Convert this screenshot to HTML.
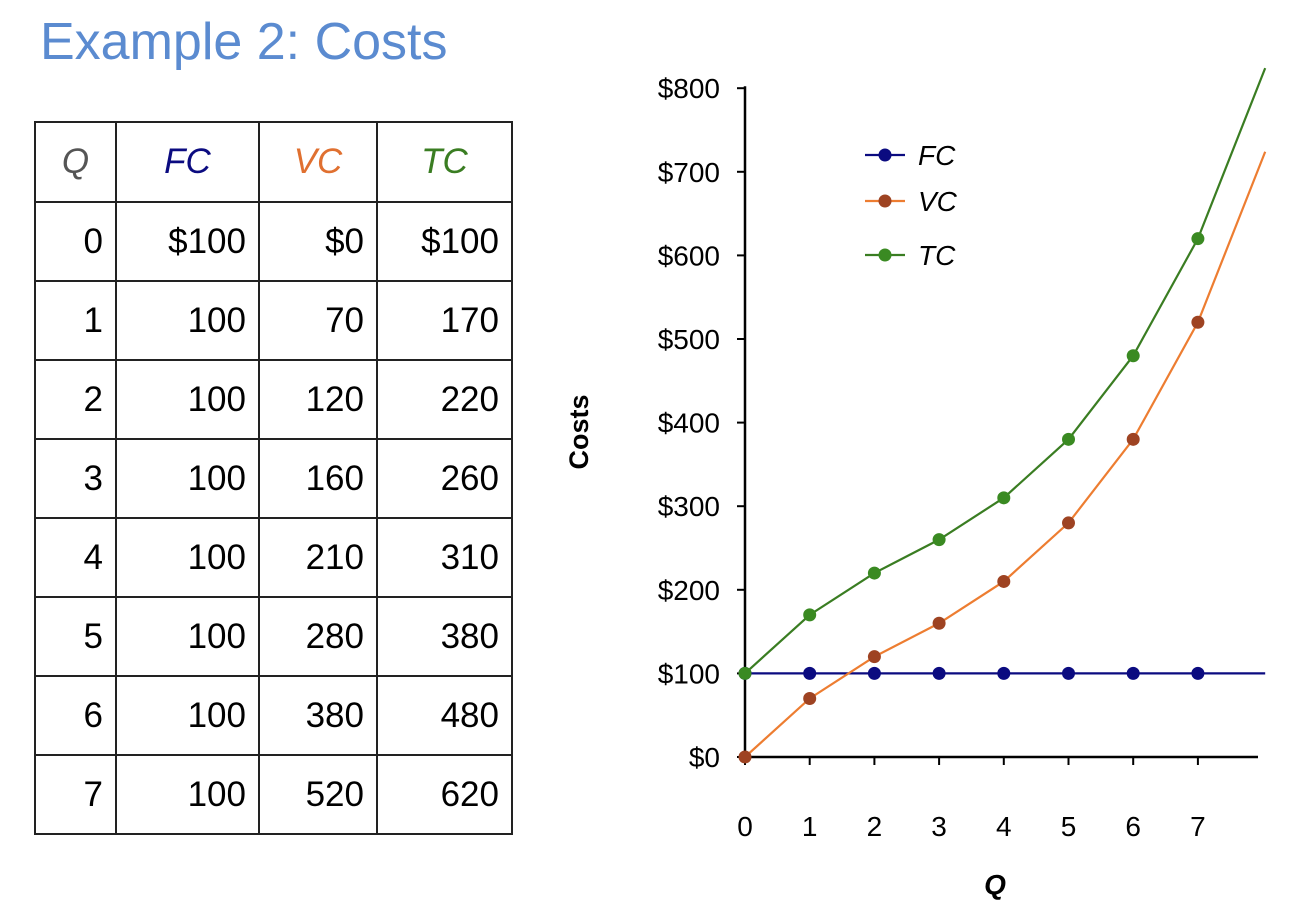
<!DOCTYPE html>
<html><head><meta charset="utf-8">
<style>
body{margin:0;background:#fff;width:1308px;height:920px;position:relative;overflow:hidden;font-family:"Liberation Sans",sans-serif}
#title{position:absolute;left:40px;top:12px;font-size:52px;color:#5b8bd0}
table{position:absolute;left:34px;top:121px;border-collapse:collapse}
td,th{border:2px solid #222;font-size:35px;font-weight:normal;padding:0 12px;height:77px;text-align:right}
th{font-style:italic;text-align:center;height:78px}
</style></head><body>
<div id="title">Example 2: Costs</div>
<table>
<tr><th style="width:55px;color:#555">Q</th><th style="width:117px;color:#0b0b80">FC</th><th style="width:92px;color:#e07030">VC</th><th style="width:109px;color:#3a7d22">TC</th></tr>
<tr><td>0</td><td>$100</td><td>$0</td><td>$100</td></tr>
<tr><td>1</td><td>100</td><td>70</td><td>170</td></tr>
<tr><td>2</td><td>100</td><td>120</td><td>220</td></tr>
<tr><td>3</td><td>100</td><td>160</td><td>260</td></tr>
<tr><td>4</td><td>100</td><td>210</td><td>310</td></tr>
<tr><td>5</td><td>100</td><td>280</td><td>380</td></tr>
<tr><td>6</td><td>100</td><td>380</td><td>480</td></tr>
<tr><td>7</td><td>100</td><td>520</td><td>620</td></tr>
</table>
<svg id="chart" width="1308" height="920" style="position:absolute;left:0;top:0"></svg>
<script>
const qs=[0,1,2,3,4,5,6,7];
const fc=[100,100,100,100,100,100,100,100];
const vc=[0,70,120,160,210,280,380,520];
const tc=[100,170,220,260,310,380,480,620];
const extQ=8.04, extFC=100, extVC=724, extTC=824;
const yTicks=[0,100,200,300,400,500,600,700,800];
const svg=document.getElementById('chart');
const NS='http://www.w3.org/2000/svg';
const X=q=>745+q*64.7, Y=v=>757-v*0.836;
function el(t,a,p){const e=document.createElementNS(NS,t);for(const k in a)e.setAttribute(k,a[k]);(p||svg).appendChild(e);return e;}
let a=el('line',{x1:745,y1:Y(800)-2,x2:745,y2:757,stroke:'#000','stroke-width':2.5});


a=el('line',{x1:745,y1:757,x2:1258,y2:757,stroke:'#000','stroke-width':2.5});


yTicks.forEach(v=>{
 el('line',{x1:737,y1:Y(v),x2:745,y2:Y(v),stroke:'#000','stroke-width':2});
 const t=el('text',{x:720,y:Y(v)+10,'text-anchor':'end','font-size':28});
 t.textContent='$'+v;
 
 
});
qs.forEach(q=>{
 el('line',{x1:X(q),y1:757,x2:X(q),y2:765,stroke:'#000','stroke-width':2});
 const t=el('text',{x:X(q),y:836,'text-anchor':'middle','font-size':28});
 t.textContent=q;
 
 
});
let t=el('text',{x:0,y:0,transform:'translate(588,432) rotate(-90)','text-anchor':'middle','font-size':27,'font-weight':'bold'});
t.textContent='Costs';


t=el('text',{x:995,y:894,'text-anchor':'middle','font-size':28,'font-weight':'bold','font-style':'italic'});
t.textContent='Q';


const series=[['FC',fc,extFC,'#0b0b80','#0b0b80',155],['VC',vc,extVC,'#ed7d31','#9e4322',201],['TC',tc,extTC,'#3a7d22','#3a8a22',255]];
series.forEach(([name,vals,ext,lc,mc,ly])=>{
 const pts=qs.map((q,i)=>X(q)+','+Y(vals[i])).concat([X(extQ)+','+Y(ext)]).join(' ');
 const p=el('polyline',{points:pts,fill:'none',stroke:lc,'stroke-width':2.2});
 
 
 qs.forEach((q,i)=>{
  const c=el('circle',{cx:X(q),cy:Y(vals[i]),r:6.5,fill:mc});
  
  
 });
 const g=el('g',{});
 
 
 el('line',{x1:865,y1:ly,x2:905,y2:ly,stroke:lc,'stroke-width':2.2},g);
 el('circle',{cx:885,cy:ly,r:6.5,fill:mc},g);
 const lt=el('text',{x:918,y:ly+10,'font-size':28,'font-style':'italic'},g);
 lt.textContent=name;
});
</script>
</body></html>
